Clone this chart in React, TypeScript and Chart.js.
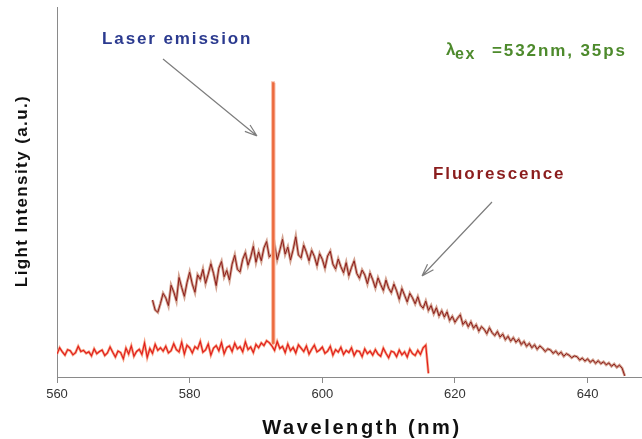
import React, { useEffect, useRef } from "react";
import { Chart, registerables } from "chart.js";

Chart.register(...registerables);

// ---- data ----
const X_MIN = 560;
const X_MAX = 648.2;
const Y_MIN = 0;
const Y_MAX = 100;
const xTickValues = [560, 580, 600, 620, 640];

const baselineStart = 560.0;
const baselineStep = 0.4;
const baselineValues = [
  6.2, 7.9, 6.8, 5.9, 7.4, 7.1, 6.0, 6.6, 8.3, 6.9,
  7.2, 6.4, 6.8, 5.7, 7.6, 6.3, 6.9, 7.3, 5.8, 6.5,
  8.1, 6.7, 5.4, 7.0, 6.6, 4.9, 7.8, 6.2, 8.4, 5.6,
  6.9, 7.5, 6.1, 9.2, 5.3, 7.7, 6.4, 8.8, 7.2, 7.9,
  7.0, 8.3, 6.5, 7.1, 9.0, 7.4, 6.8, 9.4, 6.2, 8.6,
  7.9, 6.5, 8.2, 7.6, 9.6, 6.7, 7.3, 8.9, 5.9, 7.8,
  8.5, 7.1, 9.3, 6.3, 8.0, 8.4, 6.9, 9.1, 7.6, 8.2,
  6.8, 9.5, 7.4, 8.1, 6.6, 8.8, 7.9, 9.2, 8.5, 9.8,
  9.3, 8.4, 7.2, 9.6, 7.7, 8.3, 6.6, 8.9, 7.1, 8.0,
  6.5, 8.7, 7.8, 6.9, 8.4, 6.2, 7.5, 8.6, 6.8, 7.3,
  8.1, 6.4, 7.0, 8.3, 5.9, 7.4, 6.7, 8.0, 6.1, 7.2,
  6.6, 7.9, 5.8, 7.1, 6.9, 5.5, 7.6, 6.3, 7.0, 5.9,
  7.4, 6.2, 5.6, 7.8, 6.4, 5.2, 7.0, 6.7, 5.5, 7.3,
  6.0, 6.8, 5.4, 7.5, 6.3, 5.8, 7.2, 6.1, 7.9, 8.6,
  1.0,
];

const fluoStart = 574.4;
const fluoStep = 0.4;
const fluorescenceValues = [
  20.8, 18.1, 17.5, 19.9, 22.6, 21.4, 19.3, 24.8, 23.0, 20.6,
  26.9, 24.2, 21.8, 25.5, 28.3, 25.1, 22.9, 27.6, 26.4, 29.1,
  25.3, 27.8, 30.6, 28.0, 24.7, 29.4, 31.2, 27.1, 28.8, 26.2,
  30.5, 32.9, 29.1, 28.4, 31.8, 33.6, 30.2, 32.4, 35.3, 31.0,
  33.8, 31.4, 34.9, 36.6, 32.5, 33.1, 35.8, 31.7, 34.3, 37.2,
  33.2, 35.1, 31.6, 34.4, 37.9, 33.0, 32.2, 35.6, 33.7, 31.4,
  34.2, 32.6, 30.1, 33.3, 31.8, 29.4, 32.7, 34.0, 30.5, 29.2,
  31.9, 29.8, 28.2, 30.9, 27.4, 29.6, 31.4, 28.0, 26.7, 28.9,
  27.6, 25.2, 28.1, 26.3, 24.1, 26.8, 25.0, 23.4, 26.2, 24.0,
  22.8, 25.1, 23.3, 21.0, 23.9, 22.1, 20.3, 22.6, 21.4, 19.8,
  21.7, 19.4, 18.6, 20.5, 18.0, 19.3, 17.1, 18.7, 16.5, 17.9,
  16.2, 17.6, 15.3, 16.4, 14.8, 15.9, 16.8, 14.2, 15.1, 13.6,
  14.9, 13.2, 14.1, 12.4, 13.6, 12.9, 11.7, 13.3, 12.0, 11.2,
  12.3, 10.8, 11.6, 10.1, 11.0, 9.7, 10.6, 9.4, 10.2, 8.8,
  9.6, 8.3, 9.1, 7.9, 8.7, 7.5, 8.4, 7.8, 6.9, 7.6,
  7.3, 6.4, 7.0, 6.1, 6.7, 5.6, 6.3, 5.9, 5.2, 5.7,
  5.5, 4.6, 5.1, 4.3, 4.9, 4.0, 4.6, 3.7, 4.4, 3.6,
  4.1, 3.3, 3.8, 2.9, 3.5, 2.6, 3.2, 2.4, 0.3,
];

const laserPeakWavelengths = [592.45, 592.52, 592.62, 592.7];
const laserPeakValues = [9.0, 79.5, 79.5, 9.0];

const toPoints = (start: number, step: number, vals: number[]) =>
  vals.map((v, i) => ({ x: Math.round((start + i * step) * 100) / 100, y: v }));

const FONT = '"Liberation Sans", Arial, Helvetica, sans-serif';

const drawSpaced = (
  ctx: CanvasRenderingContext2D,
  text: string,
  x: number,
  y: number,
  font: string,
  color: string,
  spacing: number,
  align: CanvasTextAlign = "left"
) => {
  ctx.font = font;
  ctx.fillStyle = color;
  (ctx as any).letterSpacing = `${spacing}px`;
  ctx.textAlign = align;
  ctx.textBaseline = "middle";
  ctx.fillText(text, x, y);
  (ctx as any).letterSpacing = "0px";
};

const drawArrow = (
  ctx: CanvasRenderingContext2D,
  x1: number,
  y1: number,
  x2: number,
  y2: number
) => {
  ctx.strokeStyle = "#7d7d7d";
  ctx.lineWidth = 1.2;
  ctx.beginPath();
  ctx.moveTo(x1, y1);
  ctx.lineTo(x2, y2);
  const ang = Math.atan2(y2 - y1, x2 - x1);
  const len = 13;
  for (const d of [-0.32, 0.32]) {
    ctx.moveTo(x2, y2);
    ctx.lineTo(x2 - len * Math.cos(ang + d), y2 - len * Math.sin(ang + d));
  }
  ctx.stroke();
};

const annotationPlugin = {
  id: "annotations",
  afterDraw(chart: any) {
    const ctx: CanvasRenderingContext2D = chart.ctx;
    ctx.save();
    // axis titles
    drawSpaced(ctx, "Wavelength (nm)", 362, 428, `bold 20px ${FONT}`, "#111", 2.6, "center");
    ctx.save();
    ctx.translate(22, 191);
    ctx.rotate(-Math.PI / 2);
    drawSpaced(ctx, "Light Intensity (a.u.)", 0, 0, `bold 17px ${FONT}`, "#111", 1.4, "center");
    ctx.restore();

    // annotations
    drawSpaced(ctx, "Laser emission", 102, 39, `bold 17px ${FONT}`, "#2b3a8f", 1.9);
    drawArrow(ctx, 163, 59, 257, 136);

    drawSpaced(ctx, "Fluorescence", 433, 174, `bold 17px ${FONT}`, "#8b1d1d", 1.9);
    drawArrow(ctx, 492, 202, 422, 276);

    drawSpaced(ctx, "\u03bb", 446, 50, `bold 17px ${FONT}`, "#4d8a2c", 0);
    drawSpaced(ctx, "ex", 455, 55, `bold 16px ${FONT}`, "#4d8a2c", 1.5);
    drawSpaced(ctx, "=532nm, 35ps", 492, 51, `bold 17px ${FONT}`, "#4d8a2c", 1.9);
    ctx.restore();
  },
};

export default function App() {
  const canvasRef = useRef<HTMLCanvasElement | null>(null);

  useEffect(() => {
    if (!canvasRef.current) return;
    const fluo = toPoints(fluoStart, fluoStep, fluorescenceValues);
    const base = toPoints(baselineStart, baselineStep, baselineValues);
    const peak = laserPeakWavelengths.map((x, i) => ({ x, y: laserPeakValues[i] }));

    const line = (label: string, data: any[], color: string, width: number, order: number) => ({
      label,
      data,
      borderColor: color,
      borderWidth: width,
      pointRadius: 0,
      tension: 0,
      order,
    });

    const chart = new Chart(canvasRef.current, {
      type: "line",
      data: {
        datasets: [
          line("Fluorescence halo", fluo, "#d3a290", 2.8, 6),
          line("Fluorescence", fluo, "#8c1c1a", 1.0, 5),
          line("Baseline halo", base, "#f6a283", 2.6, 4),
          line("Baseline", base, "#e01a1a", 1.1, 3),
          line("Laser emission halo", peak, "#f8bca6", 3.2, 2),
          line("Laser emission", peak, "#ec6a3e", 1.2, 1),
        ],
      },
      options: {
        responsive: false,
        animation: false,
        events: [],
        layout: { padding: { top: 7, left: 0, right: 0, bottom: 0 } },
        plugins: {
          legend: { display: false },
          tooltip: { enabled: false },
          title: { display: false },
        },
        scales: {
          x: {
            type: "linear",
            min: X_MIN,
            max: X_MAX,
            afterBuildTicks: (scale: any) => {
              scale.ticks = xTickValues.map((v) => ({ value: v }));
            },
            afterFit: (scale: any) => {
              scale.height = 62;
            },
            ticks: {
              autoSkip: false,
              maxRotation: 0,
              padding: 4,
              color: "#333",
              font: { family: FONT, size: 13 },
              callback: (v: any) => String(v),
            },
            grid: {
              drawOnChartArea: false,
              drawTicks: true,
              tickLength: 6,
              color: "#8a8a8a",
              lineWidth: 1,
            },
            border: { display: true, color: "#8a8a8a", width: 1 },
          },
          y: {
            type: "linear",
            min: Y_MIN,
            max: Y_MAX,
            afterFit: (scale: any) => {
              scale.width = 57;
            },
            ticks: { display: false },
            grid: { drawOnChartArea: false, drawTicks: false },
            border: { display: true, color: "#8a8a8a", width: 1 },
          },
        },
      },
      plugins: [annotationPlugin],
    });
    return () => chart.destroy();
  }, []);

  return (
    <div style={{ position: "fixed", left: 0, top: 0, width: 642, height: 439, background: "#fff" }}>
      <canvas ref={canvasRef} width={642} height={439} style={{ display: "block" }} />
    </div>
  );
}
